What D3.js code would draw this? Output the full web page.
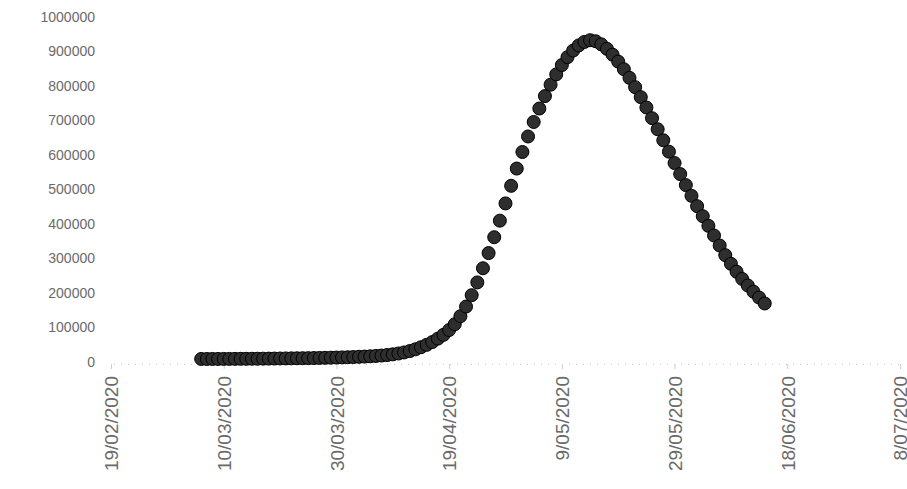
<!DOCTYPE html>
<html>
<head>
<meta charset="utf-8">
<script src="https://cdn.jsdelivr.net/npm/d3@7"></script>
<style>
  body { margin: 0; background: #fff; }
  svg { display: block; font-family: "Liberation Sans", Arial, sans-serif; }
</style>
</head>
<body>
<svg id="chart" width="907" height="489"></svg>
<script>
// daily series, first value is 6/03/2020
const startDate = "2020-03-06";
const values = [
  100, 100, 200, 200, 300, 300, 400, 500, 600, 700,
  800, 1000, 1100, 1300, 1500, 1700, 1900, 2100, 2300, 2500,
  2800, 3100, 3400, 3800, 4200, 4600, 5100, 5700, 6400, 7000,
  7800, 8800, 10000, 11500, 13500, 16000, 19000, 23000, 28000, 34000,
  41000, 49000, 59000, 70000, 84000, 101000, 124000, 152000, 185000, 222000,
  263000, 307000, 353000, 401000, 451000, 502000, 552000, 600000, 645000, 687000,
  726000, 762000, 795000, 825000, 852000, 875000, 894000, 909000, 919000, 924000,
  921000, 912000, 899000, 882000, 862000, 840000, 815000, 788000, 759000, 729000,
  698000, 666000, 634000, 601000, 568000, 536000, 504000, 473000, 443000, 414000,
  386000, 358000, 329000, 301000, 276000, 253000, 232000, 213000, 195000, 178000,
  161000
];

// axis ticks
const xTickLabels = ["19/02/2020", "10/03/2020", "30/03/2020", "19/04/2020",
                     "9/05/2020", "29/05/2020", "18/06/2020", "8/07/2020"];
const yTicks = [0, 100000, 200000, 300000, 400000, 500000, 600000, 700000, 800000, 900000, 1000000];

const parseDay = d3.utcParse("%d/%m/%Y");
const xTicks = xTickLabels.map(parseDay);
const start = d3.utcParse("%Y-%m-%d")(startDate);
const data = values.map((v, i) => ({ date: d3.utcDay.offset(start, i), value: v }));

const svg = d3.select("#chart");

const x = d3.scaleUtc()
    .domain([xTicks[0], xTicks[xTicks.length - 1]])
    .range([111, 900]);

const y = d3.scaleLinear()
    .domain([0, 1000000])
    .range([362, 17]);

// x axis: faint baseline, small ticks, rotated labels
const xAxis = svg.append("g")
    .attr("transform", `translate(0,${y(0) + 2})`)
    .call(d3.axisBottom(x)
      .tickValues(xTicks)
      .tickSize(5)
      .tickFormat((d, i) => xTickLabels[i]));

xAxis.select(".domain")
    .attr("stroke", "#c8c8c8")
    .attr("stroke-dasharray", "1,6");
xAxis.selectAll(".tick line").attr("stroke", "#d0d0d0");
xAxis.selectAll(".tick text")
    .attr("font-size", 19)
    .attr("fill", "#6a6a6a")
    .attr("text-anchor", "end")
    .attr("transform", "rotate(-90)")
    .attr("x", -12)
    .attr("y", 0)
    .attr("dy", "0.36em");

// y axis labels only
const yAxis = svg.append("g")
    .attr("transform", "translate(95,0)")
    .call(d3.axisLeft(y).tickValues(yTicks).tickSize(0).tickPadding(0).tickFormat(d3.format("d")));

yAxis.select(".domain").remove();
yAxis.selectAll(".tick text")
    .attr("font-size", 14)
    .attr("fill", "#6a6a6a");

// points
svg.append("g")
  .selectAll("circle")
  .data(data)
  .join("circle")
    .attr("cx", d => x(d.date))
    .attr("cy", d => y(d.value) - 3)
    .attr("r", 6.5)
    .attr("fill", "#2e2e2e")
    .attr("stroke", "#000")
    .attr("stroke-width", 1);
</script>
</body>
</html>
